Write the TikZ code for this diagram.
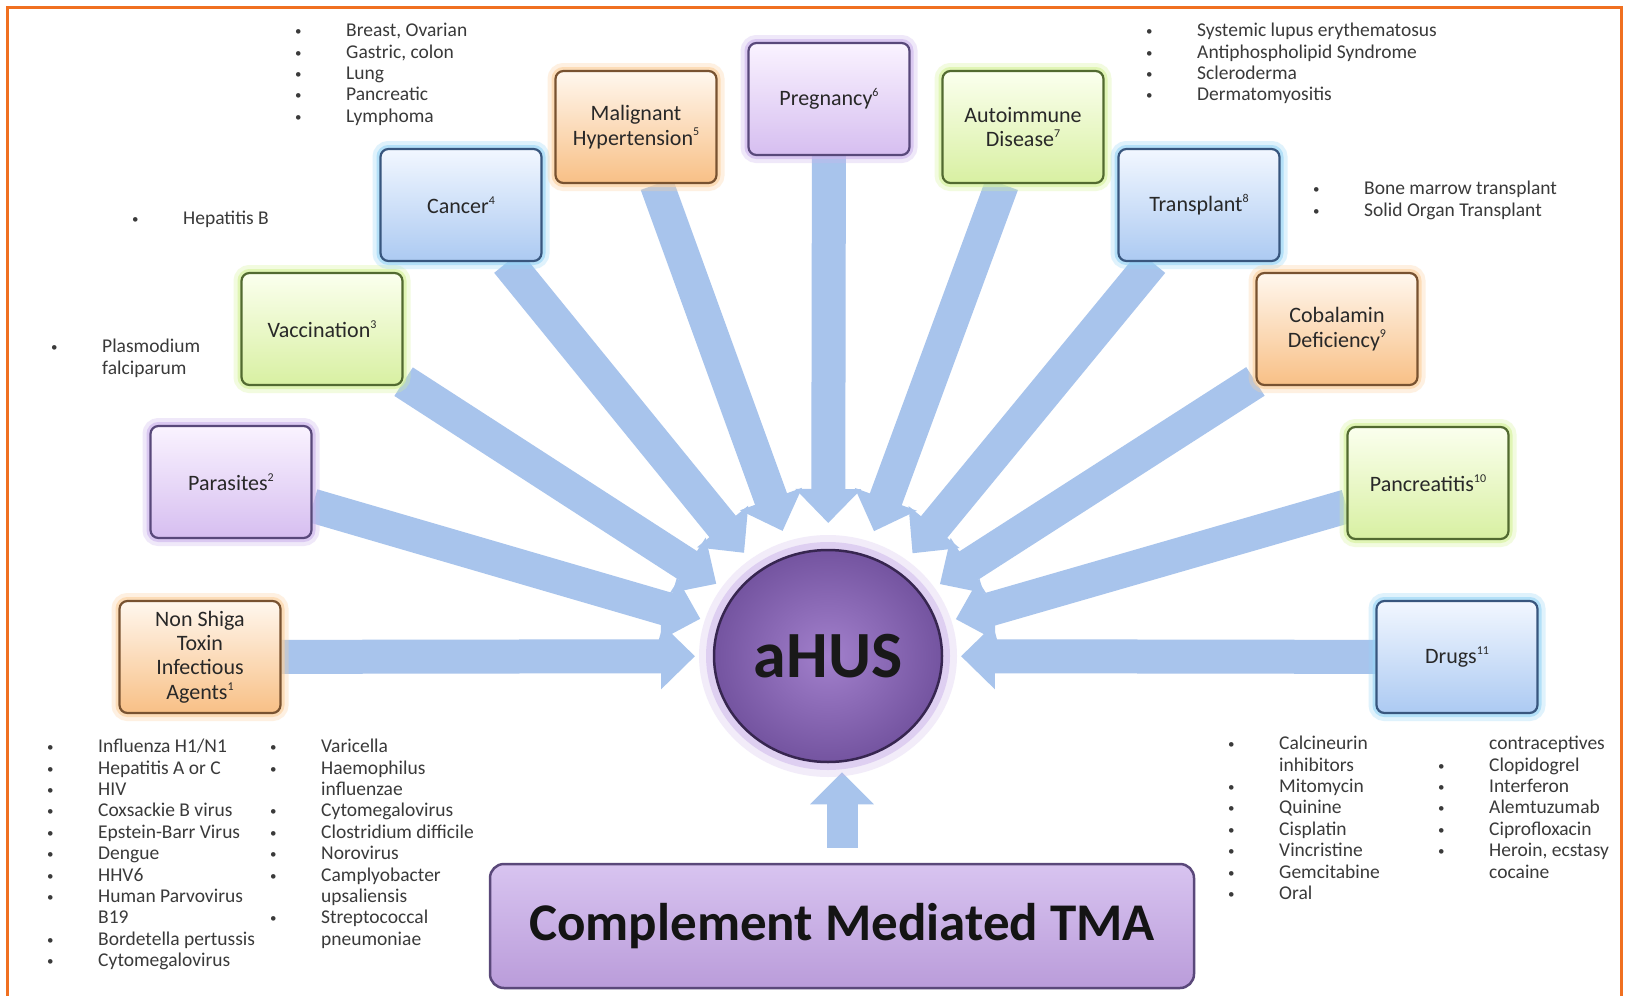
\documentclass[tikz,border=0pt]{standalone}
\usepackage{fontspec}
\setmainfont{Carlito}
\usetikzlibrary{arrows.meta,calc,shapes.geometric}
\pgfdeclarelayer{bg}
\pgfsetlayers{bg,main}

\definecolor{frameor}{RGB}{240,112,32}
\definecolor{arrblue}{RGB}{168,196,236}
\definecolor{listtext}{RGB}{58,58,58}
\definecolor{boxtext}{RGB}{40,40,40}
\definecolor{orTop}{RGB}{255,247,238}
\definecolor{orBot}{RGB}{248,192,134}
\definecolor{orBorder}{RGB}{120,82,48}
\definecolor{orGlow}{RGB}{252,208,156}
\definecolor{puTop}{RGB}{250,243,255}
\definecolor{puBot}{RGB}{214,190,240}
\definecolor{puBorder}{RGB}{88,72,122}
\definecolor{puGlow}{RGB}{204,180,236}
\definecolor{grTop}{RGB}{251,255,238}
\definecolor{grBot}{RGB}{216,240,162}
\definecolor{grBorder}{RGB}{82,106,48}
\definecolor{grGlow}{RGB}{212,242,152}
\definecolor{blTop}{RGB}{242,247,255}
\definecolor{blBot}{RGB}{172,202,242}
\definecolor{blBorder}{RGB}{56,86,126}
\definecolor{blGlow}{RGB}{150,212,246}
\definecolor{ahusIn}{RGB}{162,128,204}
\definecolor{ahusOut}{RGB}{116,84,160}
\definecolor{ahusBorder}{RGB}{55,38,80}
\definecolor{ahusGlow}{RGB}{204,180,234}
\definecolor{cmtTop}{RGB}{216,196,240}
\definecolor{cmtBot}{RGB}{186,156,218}
\definecolor{cmtBorder}{RGB}{90,72,122}

\newcommand\supnum[1]{\raisebox{0.42em}{\fontsize{12}{12}\selectfont #1}}
\newcommand\lbul{\makebox[51pt][l]{\raisebox{1pt}{\fontsize{13}{13}\selectfont\textbullet}}}
\newcommand\lnob{\hspace*{51pt}}

\tikzset{
  cbox/.style={rectangle, rounded corners=8pt, minimum width=161pt, minimum height=112pt,
    line width=2.2pt, align=center, text=boxtext, inner sep=2pt,
    font=\fontsize{22}{24.4}\selectfont},
  obox/.style={cbox, draw=orBorder, top color=orTop, bottom color=orBot,
    preaction={draw=orGlow, line width=16pt, draw opacity=0.3},
    preaction={draw=orGlow, line width=8pt, draw opacity=0.6}},
  pbox/.style={cbox, draw=puBorder, top color=puTop, bottom color=puBot,
    preaction={draw=puGlow, line width=16pt, draw opacity=0.3},
    preaction={draw=puGlow, line width=8pt, draw opacity=0.6}},
  gbox/.style={cbox, draw=grBorder, top color=grTop, bottom color=grBot,
    preaction={draw=grGlow, line width=16pt, draw opacity=0.3},
    preaction={draw=grGlow, line width=8pt, draw opacity=0.6}},
  bbox/.style={cbox, draw=blBorder, top color=blTop, bottom color=blBot,
    preaction={draw=blGlow, line width=16pt, draw opacity=0.3},
    preaction={draw=blGlow, line width=8pt, draw opacity=0.6}},
  listtxt/.style={anchor=north west, align=left, inner sep=0pt, text=listtext,
    font=\fontsize{19.5}{21.4}\selectfont},
  fatarr/.style={draw=arrblue, line width=34pt, -{Triangle[width=64pt,length=34pt]}},
  fatarrup/.style={draw=arrblue, line width=31pt, -{Triangle[width=62pt,length=32pt]}},
}

\begin{document}
\begin{tikzpicture}[x=1pt,y=-1pt]
\useasboundingbox (0,0) rectangle (1628,996);

% cause boxes
\node[obox] (ns)    at (200,657)  {Non Shiga\\Toxin\\Infectious\\Agents\supnum{1}};
\node[pbox] (par)   at (231,482)  {Parasites\supnum{2}};
\node[gbox] (vac)   at (322,329)  {Vaccination\supnum{3}};
\node[bbox] (can)   at (461,205)  {Cancer\supnum{4}};
\node[obox] (mal)   at (636,127)  {Malignant\\Hypertension\supnum{5}};
\node[pbox] (preg)  at (829,99)   {Pregnancy\supnum{6}};
\node[gbox] (autoi) at (1023,127) {Autoimmune\\Disease\supnum{7}};
\node[bbox] (trans) at (1199,205) {Transplant\supnum{8}};
\node[obox] (cob)   at (1337,329) {Cobalamin\\Deficiency\supnum{9}};
\node[gbox] (panc)  at (1428,483) {Pancreatitis\supnum{10}};
\node[bbox] (drugs) at (1457,657) {Drugs\supnum{11}};

% centre
\node[ellipse, minimum width=228pt, minimum height=212pt, inner sep=0pt,
      draw=ahusBorder, line width=2.5pt, inner color=ahusIn, outer color=ahusOut,
      preaction={draw=ahusGlow, line width=30pt, draw opacity=0.25},
      preaction={draw=ahusGlow, line width=16pt, draw opacity=0.5},
      font=\fontsize{66}{66}\bfseries\selectfont, text=black!90] (ahus) at (828,656) {aHUS};

\node[rectangle, rounded corners=14pt, minimum width=704pt, minimum height=124pt,
      draw=cmtBorder, line width=2.5pt, top color=cmtTop, bottom color=cmtBot,
      font=\fontsize{53}{53}\bfseries\selectfont, text=black!92] (cmt) at (842,926)
      {Complement Mediated TMA};

\coordinate (upbase) at ($(cmt.north)+(0,-15)$);
\coordinate (uptip) at ($(cmt.north |- ahus.south)+(0,9)$);

\begin{pgfonlayer}{bg}
\fill[white] (0,0) rectangle (1628,996);
\foreach \n in {ns,par,vac,can,mal,preg,autoi,trans,cob,panc,drugs}
  \draw[fatarr] (\n) -- ($(ahus)!133pt!(\n)$);
\draw[fatarrup] (upbase) -- (uptip);
\end{pgfonlayer}

\draw[frameor, line width=3pt] (7,1000) -- (7,7) -- (1621,7) -- (1621,1000);

% lists
\node[listtxt] (lcan) at (295,23) {\lbul Breast, Ovarian\\\lbul Gastric, colon\\\lbul Lung\\\lbul Pancreatic\\\lbul Lymphoma};
\node[listtxt] (lhep) at (132,211) {\lbul Hepatitis B};
\node[listtxt] (lpla) at (51,339) {\lbul Plasmodium\\\lnob falciparum};
\node[listtxt] (lsle) at (1146,23) {\lbul Systemic lupus erythematosus\\\lbul Antiphospholipid Syndrome\\\lbul Scleroderma\\\lbul Dermatomyositis};
\node[listtxt] (ltra) at (1313,181) {\lbul Bone marrow transplant\\\lbul Solid Organ Transplant};
\node[listtxt] (linf1) at (47,739) {\lbul Influenza H1/N1\\\lbul Hepatitis A or C\\\lbul HIV\\\lbul Coxsackie B virus\\\lbul Epstein-Barr Virus\\\lbul Dengue\\\lbul HHV6\\\lbul Human Parvovirus\\\lnob B19\\\lbul Bordetella pertussis\\\lbul Cytomegalovirus};
\node[listtxt] (linf2) at (270,739) {\lbul Varicella\\\lbul Haemophilus\\\lnob influenzae\\\lbul Cytomegalovirus\\\lbul Clostridium difficile\\\lbul Norovirus\\\lbul Camplyobacter\\\lnob upsaliensis\\\lbul Streptococcal\\\lnob pneumoniae};
\node[listtxt] (ldr1) at (1228,736) {\lbul Calcineurin\\\lnob inhibitors\\\lbul Mitomycin\\\lbul Quinine\\\lbul Cisplatin\\\lbul Vincristine\\\lbul Gemcitabine\\\lbul Oral};
\node[listtxt] (ldr2) at (1438,736) {\lnob contraceptives\\\lbul Clopidogrel\\\lbul Interferon\\\lbul Alemtuzumab\\\lbul Ciprofloxacin\\\lbul Heroin, ecstasy\\\lnob cocaine};
\end{tikzpicture}
\end{document}
